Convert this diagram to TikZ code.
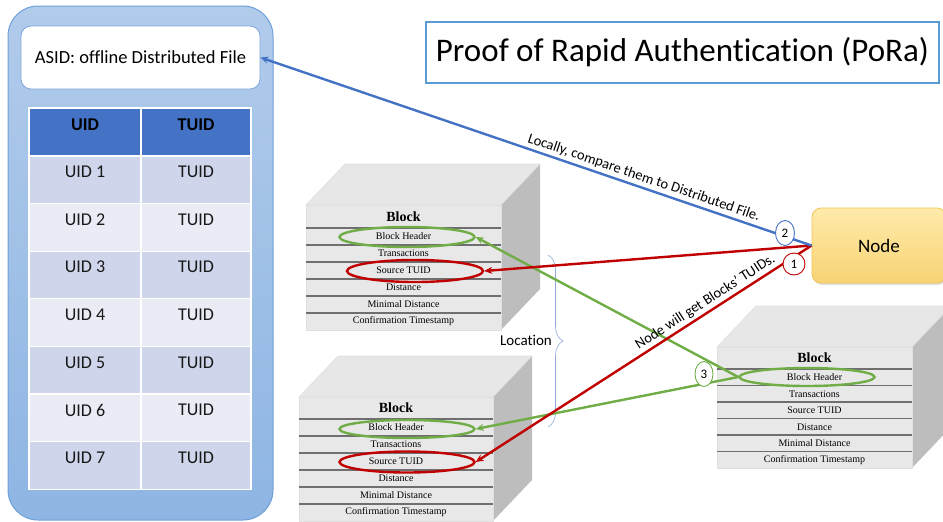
\documentclass[tikz,border=0pt]{standalone}
\usepackage{fontspec}
\setmainfont[Ligatures=NoCommon]{Carlito}
\newfontfamily\blockfont{Liberation Serif}
\usetikzlibrary{arrows.meta,decorations.pathreplacing,shapes.geometric,shadows}

\definecolor{paneltop}{HTML}{B1CBEB}
\definecolor{panelbot}{HTML}{8EB5E3}
\definecolor{panelline}{HTML}{6E9FDA}
\definecolor{asidline}{HTML}{7EA7DA}
\definecolor{hdrblue}{HTML}{4472C4}
\definecolor{rowdark}{HTML}{CFD5EA}
\definecolor{rowlight}{HTML}{E9EBF5}
\definecolor{titleblue}{HTML}{5B9BD5}
\definecolor{arrowblue}{HTML}{4472C4}
\definecolor{arrowred}{HTML}{C00000}
\definecolor{arrowgreen}{HTML}{70AD47}
\definecolor{cubefrontc}{HTML}{E8E8E8}
\definecolor{cubetopc}{HTML}{E8E7E7}
\definecolor{cubesidec}{HTML}{BEBDBD}
\definecolor{cubelinec}{HTML}{6F6F6F}
\definecolor{goldtop}{HTML}{FFEAAA}
\definecolor{goldbot}{HTML}{F8D374}
\definecolor{goldline}{HTML}{F1C659}
\definecolor{bracec}{HTML}{8FAADC}

\tikzset{
  cubetop/.style={fill=cubetopc},
  cubeside/.style={fill=cubesidec},
  cubefront/.style={fill=cubefrontc},
  cubeedge/.style={draw=black!12, line width=0.6pt},
  rowline/.style={draw=cubelinec, line width=1.1pt},
  blocktitle/.style={font=\blockfont\fontsize{14}{16}\selectfont\bfseries, inner sep=0pt},
  blockrow/.style={font=\blockfont\fontsize{10}{12}\selectfont, inner sep=0pt},
  greenring/.style={ellipse, draw=arrowgreen, line width=2.4pt, inner sep=0pt},
  redring/.style={ellipse, draw=arrowred, line width=2.4pt, inner sep=0pt},
  cellhead/.style={font=\fontsize{18}{20}\selectfont\bfseries, text=black, inner sep=0pt},
  celltext/.style={font=\fontsize{18}{20}\selectfont, text=black!90, inner sep=0pt},
  link/.style={line width=2.4pt, -{Stealth[length=8pt,width=7pt]}},
  steplabel/.style={font=\fontsize{14.5}{16}\selectfont, inner sep=2.5pt},
  stepmark/.style={ellipse, fill=white, line width=0.9pt, inner sep=0pt,
    minimum width=19pt, minimum height=25pt, font=\fontsize{13}{14}\selectfont},
}

% one block drawn as a box: #1,#2 front top-left corner, #3 width,
% #4 height of the title row, #5 height of a field row, #6 name prefix
\newcommand\blockcube[6]{%
\begin{scope}[shift={(#1,#2)}]
  \pgfmathsetmacro\cw{#3}
  \pgfmathsetmacro\ch{#4+6*#5}
  \fill[cubetop] (0,0) -- (39,-41) -- (\cw+39,-41) -- (\cw,0) -- cycle;
  \fill[cubeside] (\cw,0) -- (\cw+39,-41) -- (\cw+39,\ch-41) -- (\cw,\ch) -- cycle;
  \fill[cubefront] (0,0) rectangle (\cw,\ch);
  \draw[cubeedge] (0,0) -- (39,-41) -- (\cw+39,-41) -- (\cw,0) -- cycle;
  \draw[cubeedge] (0,0) rectangle (\cw,\ch);
  \node[blocktitle] (#6-0) at (\cw/2,#4/2) {Block};
  \foreach \lab [count=\i] in {Block Header,Transactions,Source TUID,Distance,Minimal Distance,Confirmation Timestamp}{
    \draw[rowline] (0,{#4+(\i-1)*#5}) -- (\cw,{#4+(\i-1)*#5});
    \node[blockrow] (#6-\i) at (\cw/2,{#4+(\i-0.5)*#5}) {\lab};
  }
\end{scope}}

\begin{document}
\begin{tikzpicture}[x=1pt,y=-1pt]
\useasboundingbox (0,0) rectangle (943,522);

% left panel with the distributed file
\draw[draw=panelline, line width=1pt, rounded corners=30pt,
  top color=paneltop, bottom color=panelbot] (8,6) rectangle (273,520);
\node[draw=asidline, line width=0.8pt, fill=white, rounded corners=10pt,
  minimum width=239pt, minimum height=63pt,
  font=\fontsize{18.5}{20}\selectfont] (asid) at (140.5,57.5) {ASID: offline Distributed File};

% table
\fill[hdrblue] (29,108) rectangle (251,156);
\foreach \r in {1,...,7}{
  \pgfmathsetmacro\rt{156+47.6*(\r-1)}
  \pgfmathtruncatemacro\odd{mod(\r,2)}
  \ifnum\odd=1 \fill[rowdark] (29,\rt) rectangle (251,\rt+47.6);
  \else \fill[rowlight] (29,\rt) rectangle (251,\rt+47.6); \fi
  \node[celltext] (uid\r) at (85,\rt+16) {UID \r};
  \node[celltext] (tuid\r) at (196,\rt+16) {TUID};
}
\foreach \r in {1,...,7}{
  \draw[white, line width=1.3pt] (29,{156+47.6*(\r-1)}) -- (251,{156+47.6*(\r-1)});
}
\draw[white, line width=1.3pt] (141,108) -- (141,489.2);
\draw[white, line width=1.3pt] (29,108) rectangle (251,489.2);
\node[cellhead] (uidh) at (85,125) {UID};
\node[cellhead] (tuidh) at (196,125) {TUID};

% title
\node[draw=titleblue, line width=2pt, minimum width=513pt, minimum height=61pt,
  font=\fontsize{33}{36}\selectfont] (title) at (682.5,52) {Proof of Rapid Authentication (PoRa)};

% blocks
\blockcube{306}{205}{195}{23}{17}{blkA}
\blockcube{299}{397}{194}{22}{17}{blkB}
\blockcube{717}{347}{195}{22}{16.5}{blkC}

% highlighted fields
\node[greenring, minimum width=135pt, minimum height=20pt] (hdrA) at (407,237) {};
\node[redring, minimum width=136pt, minimum height=22pt] (srcA) at (415,271) {};
\node[greenring, minimum width=135pt, minimum height=18pt] (hdrB) at (407,429) {};
\node[redring, minimum width=135pt, minimum height=21pt] (srcB) at (407,462) {};
\node[greenring, minimum width=135pt, minimum height=18pt] (hdrC) at (807,377) {};

% location brace
\draw[bracec, line width=0.6pt, decorate, decoration={brace, amplitude=15pt}] (548,255) -- (548,427);
\node[font=\fontsize{15}{17}\selectfont, inner sep=0pt] (loc) at (526,340) {Location};

% node
\node[draw=goldline, line width=0.8pt, rounded corners=9pt, top color=goldtop, bottom color=goldbot,
  minimum width=134pt, minimum height=75pt, drop shadow={opacity=0.25, shadow xshift=1pt, shadow yshift=-2pt},
  font=\fontsize{19}{21}\selectfont] (node) at (879,245.5) {Node};

% connectors
\draw[link, arrowgreen] (hdrC.west) -- (hdrA.east);
\draw[link, arrowgreen] (hdrC.west) -- (hdrB.east);
\draw[link, arrowred] (node.west) -- (srcA.east);
\draw[link, arrowred] (node.west) -- node[steplabel, pos=0.3, sloped, above, text=black] {Node will get Blocks’ TUIDs.} (srcB.east);
\draw[link, arrowblue] (node.west) -- node[steplabel, pos=0.31, sloped, above, text=black] {Locally, compare them to Distributed File.} (asid.east);

% step numbers
\node[stepmark, draw=arrowblue] (s2) at (785,233) {2};
\node[stepmark, draw=arrowred, minimum width=22pt, minimum height=22pt] (s1) at (794,264) {1};
\node[stepmark, draw=arrowgreen, minimum width=18pt] (s3) at (704,374) {3};
\end{tikzpicture}
\end{document}
